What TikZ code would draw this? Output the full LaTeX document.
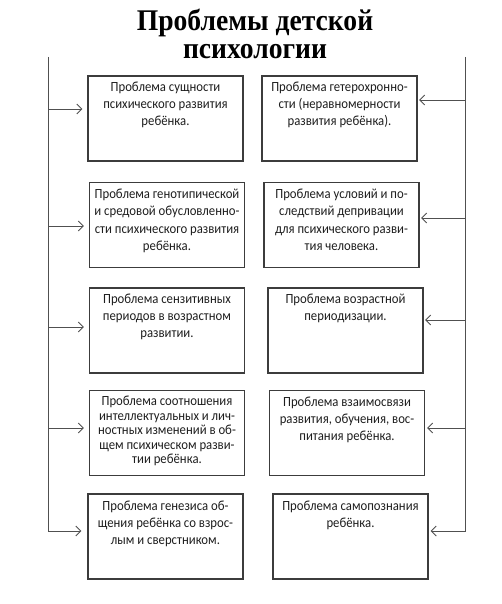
\documentclass[tikz,border=0pt]{standalone}
\usepackage{fontspec}
\setmainfont{Carlito}[FakeStretch=0.91]
\newfontfamily\titlefont{Liberation Serif}[FakeStretch=0.92]
\usetikzlibrary{arrows.meta}
\definecolor{boxgray}{HTML}{3C3C3C}
\definecolor{linegray}{HTML}{505050}
\definecolor{txt}{HTML}{1E1E1E}
\newcommand\ptext[3][17]{\parbox[c][85pt][t]{155pt}{\centering\fontsize{14}{#1}\selectfont\color{txt}\rule{0pt}{#2}#3\par}}
\tikzset{
  pbox/.style={draw=boxgray, line width=1.2pt, inner sep=0pt},
  conn/.style={draw=linegray, line width=0.9pt, -{Straight Barb[length=5pt,width=10pt,line width=0.9pt]}},
  title/.style={font={\titlefont\bfseries\fontsize{30}{28}\selectfont}, align=center, inner sep=0pt, text=black},
}
\begin{document}
\begin{tikzpicture}[x=1pt,y=-1pt]
\useasboundingbox (0,0) rectangle (501,604);
\node[title, anchor=base] (t) at (255,59) {Проблемы детской\\психологии};
% boxes
\node[pbox] (b1l) at (165.5,118.5) {\ptext{15.5pt}{Проблема сущности\\психического развития\\ребёнка.}};
\node[pbox] (b1r) at (339.5,118.5) {\ptext{15.5pt}{Проблема гетерохронно-\\сти (неравномерности\\развития ребёнка).}};
\node[pbox] (b2l) at (167,225) {\ptext[17.5]{15.5pt}{Проблема генотипической\\и средовой обусловленно-\\сти психического развития\\ребёнка.}};
\node[pbox] (b2r) at (341.5,225) {\ptext[17.5]{15.5pt}{Проблема условий и по-\\следствий депривации\\для психического разви-\\тия человека.}};
\node[pbox] (b3l) at (167,330.5) {\ptext{15.5pt}{Проблема сензитивных\\периодов в возрастном\\развитии.}};
\node[pbox] (b3r) at (345.5,330.5) {\ptext{15.5pt}{Проблема возрастной\\периодизации.}};
\node[pbox] (b4l) at (167,433) {\ptext[14.6]{15pt}{Проблема соотношения\\интеллектуальных и лич-\\ностных изменений в об-\\щем психическом разви-\\тии ребёнка.}};
\node[pbox] (b4r) at (347,433) {\ptext{15.5pt}{Проблема взаимосвязи\\развития, обучения, вос-\\питания ребёнка.}};
\node[pbox] (b5l) at (165.5,536.5) {\ptext{16.5pt}{Проблема генезиса об-\\щения ребёнка со взрос-\\лым и сверстником.}};
\node[pbox] (b5r) at (350.5,536.5) {\ptext{16.5pt}{Проблема самопознания\\ребёнка.}};
% left spine
\coordinate (ltop) at (48,57);
\coordinate (l1) at (48,109);
\coordinate (l2) at (48,226);
\coordinate (l3) at (48,327);
\coordinate (l4) at (48,428);
\coordinate (l5) at (48,531);
\draw[conn, shorten >=5pt] (l1) -- (l1 -| b1l.west);
\draw[conn, shorten >=5pt] (l2) -- (l2 -| b2l.west);
\draw[conn, shorten >=5pt] (l3) -- (l3 -| b3l.west);
\draw[conn, shorten >=5pt] (l4) -- (l4 -| b4l.west);
\draw[conn, shorten >=6pt] (ltop) -- (l5) -- (l5 -| b5l.west);
% right spine
\coordinate (rtop) at (465,57);
\coordinate (r1) at (465,100);
\coordinate (r2) at (465,218);
\coordinate (r3) at (465,320);
\coordinate (r4) at (465,428);
\coordinate (r5) at (465,531);
\draw[conn, shorten >=1.5pt] (r1) -- (r1 -| b1r.east);
\draw[conn, shorten >=1.5pt] (r2) -- (r2 -| b2r.east);
\draw[conn, shorten >=1.5pt] (r3) -- (r3 -| b3r.east);
\draw[conn, shorten >=2pt] (r4) -- (r4 -| b4r.east);
\draw[conn, shorten >=2pt] (rtop) -- (r5) -- (r5 -| b5r.east);
\end{tikzpicture}
\end{document}
